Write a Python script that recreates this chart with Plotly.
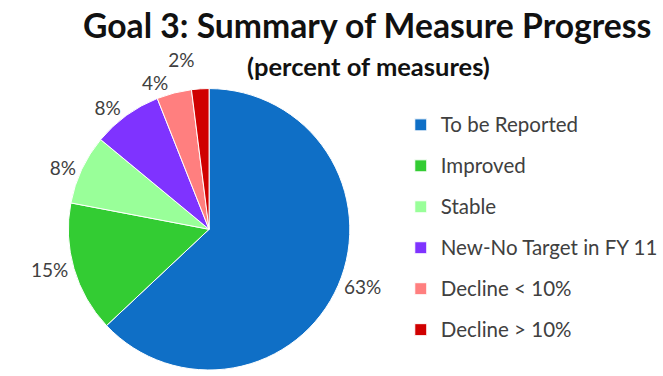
import plotly.graph_objects as go

# Measure status categories and their share of all Goal 3 measures (percent)
categories = [
    "To be Reported",
    "Improved",
    "Stable",
    "New-No Target in FY 11",
    "Decline < 10%",
    "Decline > 10%",
]
percents = [63, 15, 8, 8, 4, 2]
slice_colors = ["#0F6FC6", "#33CC33", "#99FF99", "#7F33FF", "#FF7F7F", "#D00000"]

W, H = 663, 376
FONT = "Lato"
TEXT_GRAY = "#404040"

# Pie geometry in pixels: centre and radius
cx, cy, r = 211, 233, 143

# Legend entries: smaller visible text inside a taller legend row
legend_labels = [
    f"<span style='font-size:20.5px;baseline-shift:4px'>{c}</span>" for c in categories
]

fig = go.Figure(
    go.Pie(
        labels=legend_labels,
        values=percents,
        text=[f"{p}%" for p in percents],
        textinfo="text",
        textposition="outside",
        outsidetextfont=dict(family=FONT, size=19, color=TEXT_GRAY),
        marker=dict(colors=slice_colors, line=dict(color="#FFFFFF", width=1)),
        sort=False,
        direction="clockwise",
        rotation=0,
        hoverinfo="label+percent",
        domain=dict(
            x=[(cx - r) / W, (cx + r) / W],
            y=[(H - (cy + r)) / H, (H - (cy - r)) / H],
        ),
    )
)

fig.update_layout(
    width=W,
    height=H,
    margin=dict(l=0, r=0, t=0, b=0),
    paper_bgcolor="#FFFFFF",
    plot_bgcolor="#FFFFFF",
    font=dict(family=FONT, color=TEXT_GRAY),
    showlegend=True,
    legend=dict(
        x=0.61,
        y=1 - 101 / H,
        xanchor="left",
        yanchor="top",
        font=dict(family=FONT, size=29.2, color=TEXT_GRAY),
        bgcolor="rgba(0,0,0,0)",
        itemclick=False,
        itemdoubleclick=False,
    ),
    annotations=[
        dict(
            text="<b>Goal 3: Summary of Measure Progress</b>",
            x=370 / W, y=1 - 25 / H,
            xref="paper", yref="paper",
            xanchor="center", yanchor="middle",
            showarrow=False,
            font=dict(family=FONT, size=33.7, color="#111111"),
        ),
        dict(
            text="<b>(percent of measures)</b>",
            x=372 / W, y=1 - 67 / H,
            xref="paper", yref="paper",
            xanchor="center", yanchor="middle",
            showarrow=False,
            font=dict(family=FONT, size=25.5, color="#111111"),
        ),
    ],
)

# Outside labels are shown without connector lines
hide_lines = "document.querySelectorAll('path.textline').forEach(function(p){p.remove();});"

fig.write_html("out.html", config={"displayModeBar": False}, post_script=hide_lines)
